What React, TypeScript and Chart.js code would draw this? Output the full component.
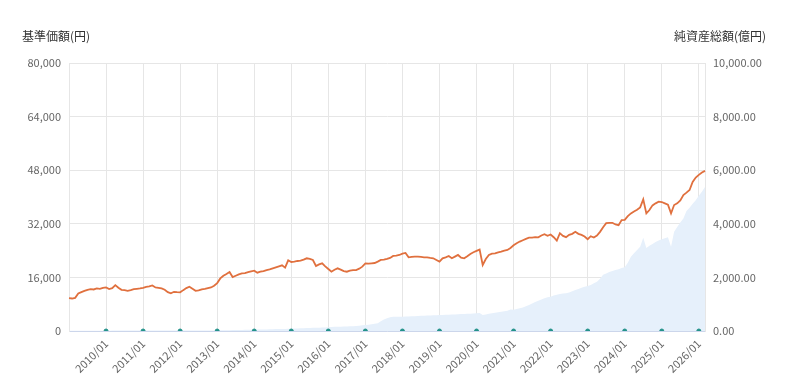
import React, { useEffect, useRef } from "react";
import { Chart, registerables } from "chart.js";

Chart.register(...registerables);

// Monthly categories 2009/01 .. 2026/03
const START_YEAR = 2009;
const END_YEAR = 2026;
const END_MONTH = 3;
const MONTHS: string[] = [];
for (let y = START_YEAR; y <= END_YEAR; y++) {
  for (let m = 1; m <= 12; m++) {
    if (y === END_YEAR && m > END_MONTH) break;
    MONTHS.push(`${y}/${String(m).padStart(2, "0")}`);
  }
}

// 基準価額(円), monthly
const PRICE: number[] = [
  // 2009
  9800, 9700, 9900, 11200, 11600, 12000, 12300, 12500, 12400, 12700, 12600, 12900,
  // 2010
  13000, 12500, 12800, 13700, 12900, 12300, 12200, 12000, 12200, 12500, 12600, 12700,
  // 2011
  12900, 13200, 13300, 13600, 13000, 12900, 12700, 12300, 11600, 11250, 11700, 11600,
  // 2012
  11550, 12200, 12800, 13200, 12600, 12000, 12100, 12450, 12600, 12800, 13000, 13500,
  // 2013
  14300, 15700, 16500, 17000, 17600, 16100, 16500, 16900, 17200, 17300, 17600, 17800,
  // 2014
  18000, 17400, 17700, 17900, 18200, 18400, 18700, 19000, 19300, 19600, 18900, 21100,
  // 2015
  20600, 20700, 20900, 21000, 21300, 21700, 21500, 21200, 19400, 19900, 20200, 19300,
  // 2016
  18500, 17700, 18300, 18700, 18300, 17900, 17700, 18000, 18200, 18200, 18600, 19200,
  // 2017
  20200, 20100, 20200, 20300, 20700, 21200, 21300, 21500, 21800, 22400, 22500, 22700,
  // 2018
  23100, 23300, 22000, 22100, 22200, 22200, 22100, 22000, 22000, 21800, 21700, 21200,
  // 2019
  20700, 21700, 22000, 22400, 21700, 22200, 22700, 21900, 21700, 22300, 23000, 23500,
  // 2020
  23900, 24300, 19700, 21500, 22700, 23100, 23200, 23500, 23700, 24000, 24200, 24800,
  // 2021
  25600, 26200, 26700, 27100, 27500, 27850, 27900, 28000, 27970, 28500, 28900, 28400,
  // 2022
  28800, 28000, 27000, 29200, 28400, 28000, 28700, 29000, 29600, 29000, 28700, 28200,
  // 2023
  27400, 28300, 27900, 28500, 29600, 31000, 32200, 32300, 32300, 31800, 31600, 33100,
  // 2024
  33200, 34300, 35100, 35700, 36200, 36900, 39300, 35100, 36100, 37500, 38100, 38600,
  // 2025
  38500, 38100, 37700, 35100, 37600, 38100, 39000, 40600, 41300, 42100, 44500, 45800,
  // 2026
  46600, 47300, 47800,
];

// 純資産総額(億円), monthly
const NET_ASSETS: number[] = [
  // 2009
  8, 8, 8, 9, 10, 10, 11, 11, 12, 12, 12, 13,
  // 2010
  13, 13, 14, 14, 14, 14, 15, 15, 15, 16, 16, 16,
  // 2011
  17, 17, 18, 18, 18, 18, 18, 17, 17, 17, 17, 18,
  // 2012
  18, 18, 19, 19, 19, 19, 19, 20, 20, 20, 21, 22,
  // 2013
  24, 26, 28, 30, 32, 33, 35, 37, 40, 42, 45, 48,
  // 2014
  50, 53, 56, 58, 60, 63, 66, 70, 72, 75, 78, 82,
  // 2015
  86, 90, 95, 100, 105, 110, 115, 120, 118, 125, 130, 135,
  // 2016
  140, 150, 155, 160, 160, 165, 170, 175, 180, 190, 200, 210,
  // 2017
  220, 235, 250, 270, 287, 360, 430, 480, 515, 530, 534, 534,
  // 2018
  534, 540, 545, 550, 555, 560, 565, 570, 575, 580, 585, 590,
  // 2019
  597, 600, 605, 610, 615, 620, 625, 630, 635, 640, 645, 655,
  // 2020
  660, 670, 600, 620, 640, 660, 680, 700, 720, 740, 760, 800,
  // 2021
  790, 820, 850, 880, 920, 970, 1030, 1080, 1130, 1180, 1220, 1257,
  // 2022
  1280, 1320, 1350, 1380, 1400, 1407, 1440, 1480, 1530, 1570, 1610, 1650,
  // 2023
  1679, 1720, 1780, 1840, 1950, 2100, 2150, 2200, 2240, 2280, 2300, 2350,
  // 2024
  2377, 2550, 2772, 2900, 3020, 3145, 3480, 3100, 3180, 3250, 3320, 3380,
  // 2025
  3420, 3460, 3500, 3145, 3700, 3880, 4050, 4200, 4480, 4600, 4750, 4880,
  // 2026
  5050, 5200, 5370,
];

// Markers on the axis (each January, 2010-2026)
const MARKER_MONTHS: string[] = [
  "2010/01", "2011/01", "2012/01", "2013/01", "2014/01", "2015/01", "2016/01", "2017/01", "2018/01",
  "2019/01", "2020/01", "2021/01", "2022/01", "2023/01", "2024/01", "2025/01", "2026/01",
];
const MARKERS = MARKER_MONTHS.map((m) => ({ x: m, y: 0 }));

const LEFT_TITLE = "基準価額(円)";
const RIGHT_TITLE = "純資産総額(億円)";

const FONT = '"Noto Sans CJK JP", "Liberation Sans", Arial, sans-serif';

export default function App() {
  const ref = useRef<HTMLCanvasElement | null>(null);

  useEffect(() => {
    document.body.style.margin = "0";
    const canvas = ref.current!;
    const titlePlugin = {
      id: "titles",
      afterDraw(chart: any) {
        const ctx = chart.ctx;
        ctx.save();
        ctx.font = `12px ${FONT}`;
        ctx.fillStyle = "#333333";
        ctx.textBaseline = "middle";
        ctx.textAlign = "left";
        ctx.fillText(LEFT_TITLE, 22, 36);
        ctx.textAlign = "right";
        ctx.fillText(RIGHT_TITLE, 766, 36);
        ctx.restore();
      },
    };

    const chart = new Chart(canvas, {
      type: "line",
      data: {
        labels: MONTHS,
        datasets: [
          {
            type: "scatter" as any,
            label: "markers",
            data: MARKERS as any,
            xAxisID: "x",
            yAxisID: "y",
            pointRadius: 2,
            pointBackgroundColor: "#23928a",
            pointBorderColor: "#23928a",
            showLine: false,
          },
          {
            label: "基準価額",
            data: PRICE,
            xAxisID: "x",
            yAxisID: "y",
            borderColor: "#e0703e",
            borderWidth: 1.8,
            pointRadius: 0,
            tension: 0,
            fill: false,
          },
          {
            label: "純資産総額",
            data: NET_ASSETS,
            xAxisID: "x",
            yAxisID: "y1",
            borderColor: "rgba(0,0,0,0)",
            borderWidth: 0,
            backgroundColor: "#e6f0fb",
            pointRadius: 0,
            tension: 0,
            fill: "origin",
          },
        ],
      },
      options: {
        animation: false,
        responsive: false,
        layout: { padding: { top: 63, left: 0, right: 0, bottom: 0 } },
        plugins: {
          legend: { display: false },
          tooltip: { enabled: false },
        },
        scales: {
          x: {
            type: "category",
            offset: false,
            afterFit: (s: any) => {
              s.height = 54;
            },
            grid: {
              color: "#e6e6e6",
              drawTicks: false,
            },
            border: { color: "#ccd6eb", width: 1 },
            ticks: {
              autoSkip: false,
              minRotation: 45,
              maxRotation: 45,
              padding: 6,
              color: "#666666",
              font: { size: 11, family: FONT },
              callback: function (this: any, _v: any, i: number) {
                const l = MONTHS[i];
                return MARKER_MONTHS.includes(l) ? l : null;
              },
            },
          },
          y: {
            position: "left",
            min: 0,
            max: 80000,
            afterFit: (s: any) => {
              s.width = 69;
            },
            grid: { color: "#e6e6e6", drawTicks: false },
            border: { color: "#e6e6e6" },
            ticks: {
              stepSize: 16000,
              padding: 8,
              color: "#666666",
              font: { size: 11, family: FONT },
              callback: (v: any) => Number(v).toLocaleString("en-US"),
            },
          },
          y1: {
            position: "right",
            min: 0,
            max: 10000,
            afterFit: (s: any) => {
              s.width = 95;
            },
            grid: { drawOnChartArea: false, drawTicks: false },
            border: { color: "#e6e6e6" },
            ticks: {
              stepSize: 2000,
              padding: 8,
              color: "#666666",
              font: { size: 11, family: FONT },
              callback: (v: any) =>
                Number(v).toLocaleString("en-US", { minimumFractionDigits: 2, maximumFractionDigits: 2 }),
            },
          },
        },
      },
      plugins: [titlePlugin],
    });
    return () => chart.destroy();
  }, []);

  return (
    <div style={{ width: 800, height: 385 }}>
      <canvas ref={ref} width={800} height={385} style={{ display: "block" }} />
    </div>
  );
}
